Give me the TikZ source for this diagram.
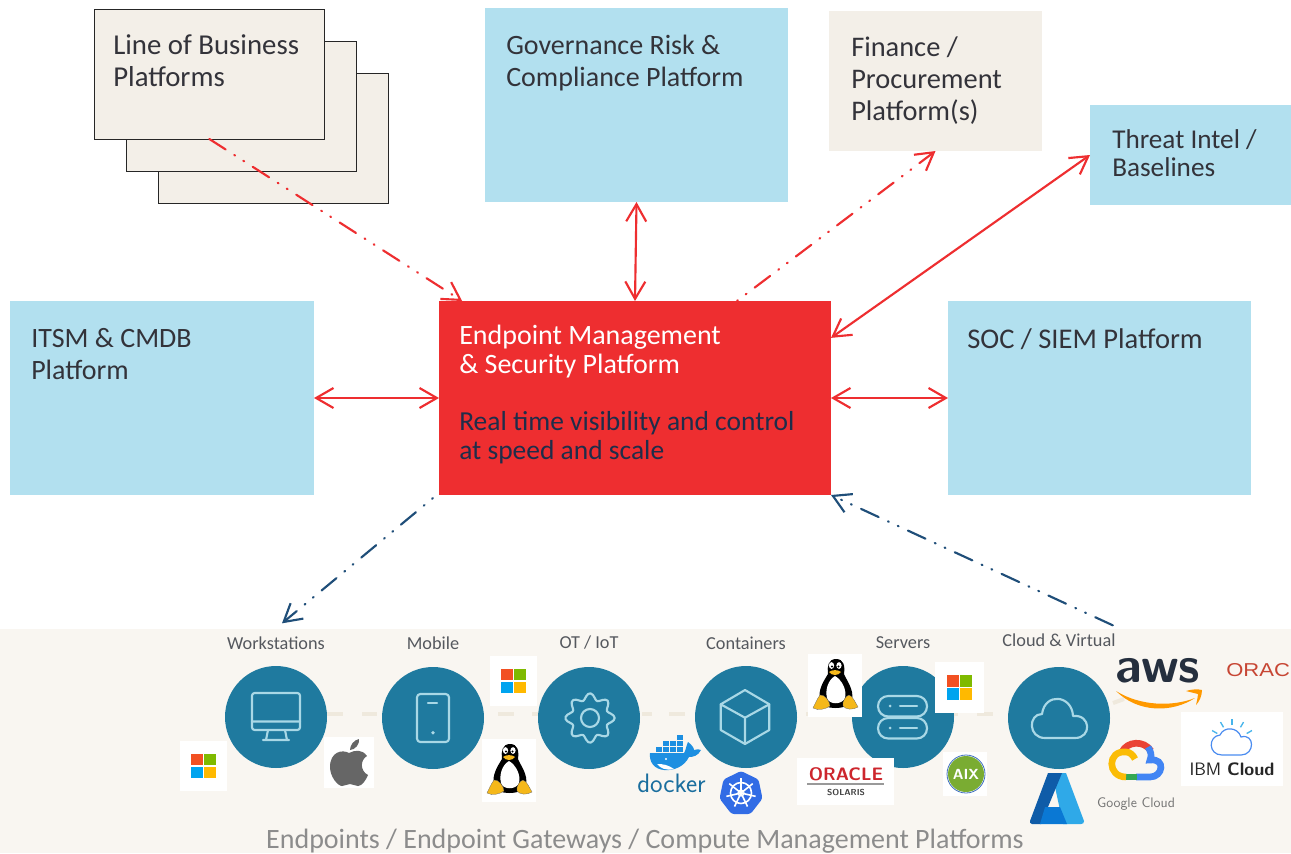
\documentclass[tikz,border=0pt]{standalone}
\usepackage{graphicx}
\usepackage{fontspec}
\setmainfont{Carlito}
\newfontfamily\logosans{Liberation Sans}
\usetikzlibrary{arrows.meta,calc}
\definecolor{panelblue}{HTML}{B2E0EF}
\definecolor{panelcream}{HTML}{F3EFE8}
\definecolor{corered}{HTML}{EE2E30}
\definecolor{corenavy}{HTML}{1F2D4A}
\definecolor{arrowred}{HTML}{EE2E30}
\definecolor{arrownavy}{HTML}{1F4E79}
\definecolor{bandbg}{HTML}{F9F6F1}
\definecolor{bandline}{HTML}{EFE9DD}
\definecolor{discblue}{HTML}{1F7A9F}
\definecolor{iconblue}{HTML}{A9D8E6}
\definecolor{inktext}{HTML}{33333A}
\definecolor{greytext}{HTML}{8C8C8C}
\definecolor{lbltext}{HTML}{55585E}
\definecolor{tuxyellow}{HTML}{F5B81A}
\newcommand{\fs}[2]{\fontsize{#1}{#2}\selectfont}
\tikzset{
  x=0.75pt,y=-0.75pt,
  panel/.style={anchor=north west,inner sep=0pt,outer sep=0pt,draw=none},
  lobpanel/.style={panel,fill=panelcream,draw=black!85,line width=0.65pt,minimum width=173pt,minimum height=97.5pt},
  bigtext/.style={anchor=north west,inner sep=0pt,align=left,font=\fs{21}{24},text=inktext},
  twoway/.style={draw=arrowred,line width=1.6pt,{Straight Barb[length=13pt,width=15pt]}-{Straight Barb[length=13pt,width=15pt]}},
  dashdots/.style={line width=1.6pt,line cap=round,dash pattern=on 14.5pt off 7.7pt on 0.7pt off 7.4pt on 0.7pt off 7.7pt},
  oneway/.style={dashdots,draw=arrowred,-{Straight Barb[length=13pt,width=15pt]}},
  navyway/.style={dashdots,draw=arrownavy,-{Straight Barb[length=13pt,width=15pt]}},
  disc/.style={circle,fill=discblue,minimum size=76.5pt,inner sep=0pt,outer sep=0pt},
  icon/.style={draw=iconblue,line width=1.6pt,line join=round,line cap=round},
  lbl/.style={inner sep=0pt,font=\fs{13.7}{15},text=lbltext},
  logobox/.style={fill=white,draw=none}
}
\newcommand{\msquares}[4]{% box x1 y1 x2 y2 ; squares centred
  \fill[logobox] (#1,#2) rectangle (#3,#4);
  \begin{scope}[shift={({(#1+#3)/2},{(#2+#4)/2})}]
    \fill[color={rgb,255:red,242;green,80;blue,34}] (-12.2,-12.2) rectangle (-0.6,-0.6);
    \fill[color={rgb,255:red,127;green,186;blue,0}] (0.6,-12.2) rectangle (12.2,-0.6);
    \fill[color={rgb,255:red,0;green,164;blue,239}] (-12.2,0.6) rectangle (-0.6,12.2);
    \fill[color={rgb,255:red,255;green,185;blue,0}] (0.6,0.6) rectangle (12.2,12.2);
  \end{scope}}
\newcommand{\tuxlogo}[2]{%
  \begin{scope}[shift={(#1,#2)}]
    \fill[logobox] (0,0) rectangle (54,63);
    \fill[black] (28,5) .. controls (20,5) and (19,13) .. (20,20) .. controls (15,28) and (10,36) .. (12,45) .. controls (14,52) and (20,54) .. (27,54) .. controls (35,54) and (42,52) .. (44,45) .. controls (46,36) and (39,27) .. (36,20) .. controls (37,12) and (36,5) .. (28,5) -- cycle;
    \fill[white] (27,22) .. controls (20,26) and (17,36) .. (19,44) .. controls (21,51) and (34,51) .. (37,44) .. controls (39,36) and (34,26) .. (27,22) -- cycle;
    \fill[white] (23.5,11.5) ellipse (2.6 and 3.4);
    \fill[white] (31,11.5) ellipse (2.6 and 3.4);
    \fill[black] (24,12.5) circle (1.1);
    \fill[black] (30.5,12.5) circle (1.1);
    \fill[tuxyellow] (21,18) .. controls (24,15.5) and (30,15.5) .. (33,18) .. controls (30,22) and (24,22) .. (21,18) -- cycle;
    \filldraw[fill=tuxyellow,draw=black!60,line width=0.2pt] (12,41) .. controls (16,40) and (22,47) .. (22,52) .. controls (18,55) and (10,57) .. (5,54) .. controls (7,50) and (9,45) .. (12,41) -- cycle;
    \filldraw[fill=tuxyellow,draw=black!60,line width=0.2pt] (41,41) .. controls (45,42) and (48,50) .. (50,53) .. controls (45,56) and (38,56) .. (35,52) .. controls (34,47) and (38,42) .. (41,41) -- cycle;
  \end{scope}}
\begin{document}
\begin{tikzpicture}
\useasboundingbox (0,0) rectangle (1291,853);
\begin{scope}
\clip (0,0) rectangle (1291,853);
\fill[white] (0,0) rectangle (1291,853);
\fill[bandbg] (0,629) rectangle (1291,853);
% stacked platform cards
\node[lobpanel] (lobc) at (158,73) {};
\node[lobpanel] (lobb) at (126,41) {};
\node[lobpanel] (lob) at (94,9) {};
\node[bigtext,font=\fs{21.6}{24}] (lobt) at (113,34) {Line of Business\\Platforms};
\node[panel,fill=panelblue,minimum width=227.25pt,minimum height=145.5pt] (grc) at (485,8) {};
\node[bigtext] (grct) at (506,35) {Governance Risk \&\\Compliance Platform};
\node[panel,fill=panelcream,minimum width=159.75pt,minimum height=105pt] (fin) at (829,11) {};
\node[bigtext,font=\fs{21.3}{24}] (fint) at (851,37) {Finance /\\Procurement\\Platform(s)};
\node[panel,fill=panelblue,minimum width=150.75pt,minimum height=75pt] (threat) at (1090,105) {};
\node[bigtext,font=\fs{20.4}{21}] (threatt) at (1112,129) {Threat Intel /\\Baselines};
\node[panel,fill=panelblue,minimum width=228pt,minimum height=145.5pt] (itsm) at (10,301) {};
\node[bigtext] (itsmt) at (31,328) {ITSM \& CMDB\\Platform};
\node[panel,fill=panelblue,minimum width=227.25pt,minimum height=145.5pt] (soc) at (948,301) {};
\node[bigtext,font=\fs{21.4}{24}] (soct) at (967,328) {SOC / SIEM Platform};
\node[panel,fill=corered,minimum width=294pt,minimum height=145.5pt] (core) at (439,301) {};
\node[bigtext,text=white,font=\fs{21}{21.75}] (coret) at (459,325) {Endpoint Management\\\& Security Platform};
\node[bigtext,text=corenavy,font=\fs{20.6}{21.75}] (coresub) at (459,411) {Real time visibility and control\\at speed and scale};
% band dashes
\foreach \a/\b in {327/343,362/377,498/514,532/548,642/652,669/685,806/822,953/958,977/993}
  \draw[bandline,line width=3pt] (\a,714) -- (\b,714);
\draw[bandline,line width=3pt] (1113,703) -- (1124,699);
% discs
\node[disc] (dw) at (276,717) {};
\node[disc] (dm) at (433,718) {};
\node[disc] (dt) at (589,718) {};
\node[disc] (dc) at (746,717) {};
\node[disc] (ds) at (903,717) {};
\node[disc] (dv) at (1059,718) {};
\node[lbl] (lw) at (276,643) {Workstations};
\node[lbl] (lm) at (433,643) {Mobile};
\node[lbl] (lt) at (589,643) {OT / IoT};
\node[lbl] (lc) at (746,643) {Containers};
\node[lbl] (ls) at (903,643) {Servers};
\node[lbl] (lv) at (1059,640) {Cloud \& Virtual};
\node[inner sep=0pt,font=\fs{21}{24},text=greytext] (caption) at (645,841) {Endpoints / Endpoint Gateways / Compute Management Platforms};
% monitor icon
\draw[icon,rounded corners=2pt] (252,693) rectangle (300,730);
\draw[icon] (252,721.5) -- (300,721.5) (268,730) -- (266,740) (285,730) -- (287,740) (263,740) -- (289,740);
% phone icon
\draw[icon,rounded corners=2.5pt] (417,694) rectangle (449,742);
\draw[icon] (428,702.7) -- (437,702.7);
\fill[iconblue] (433,732.7) circle (1.9);
% gear icon
\draw[icon,shift={(590,718)}] plot[smooth cycle,samples=65,domain=0:354.375] ({(21.5+3.2*cos(8*\x))*cos(\x)},{(21.5+3.2*cos(8*\x))*sin(\x)});
\draw[icon] (590,718) circle (9);
% cube icon
\draw[icon] (745,690) -- (769.3,704.3) -- (769.3,730) -- (745,744) -- (720.7,730) -- (720.7,704.3) -- cycle;
\draw[icon] (720.7,704.3) -- (745,717.7) -- (769.3,704.3) (745,717.7) -- (745,744);
% server icon
\draw[icon,rounded corners=7.6pt] (878,696) rectangle (927,716.5);
\draw[icon,rounded corners=7.6pt] (878,718) rectangle (927,738.5);
\fill[iconblue] (890,706) circle (1.5) (890,728) circle (1.5);
\draw[icon] (900,706) -- (917,706) (900,728) -- (917,728);
% cloud icon
\draw[icon] (1045,738) .. controls (1028,738) and (1028,714) .. (1042,714) .. controls (1045,692) and (1072,695) .. (1073,716) .. controls (1091,714) and (1092,738) .. (1075,738) -- cycle;
% logos
\msquares{180}{741}{227}{791}
\fill[logobox] (324,737) rectangle (374,788);
\fill[black!60] (349,753) .. controls (342,749) and (330,752) .. (330,767) .. controls (330,777) and (338,786) .. (342,786) .. controls (345,786) and (347,784) .. (350,784) .. controls (353,784) and (355,786) .. (358,786) .. controls (362,786) and (366,780) .. (368,775) .. controls (360,771) and (360,760) .. (367,756) .. controls (362,749) and (355,750) .. (349,753) -- cycle;
\fill[black!60] (350,750) .. controls (350,745) and (354,740) .. (359,739) .. controls (360,744) and (355,750) .. (350,750) -- cycle;
\msquares{490}{656}{537}{706}
\tuxlogo{482}{739}
\tuxlogo{808}{654}
\msquares{935}{662}{984}{713}
% docker
\definecolor{dockerblue}{HTML}{1D8FE1}
\fill[dockerblue] (650,753) -- (684,753) .. controls (686,750) and (686,746) .. (688,742) .. controls (692,745) and (694,748) .. (694,750) .. controls (697,749) and (699,749) .. (701,750) .. controls (698,756) and (693,757) .. (689,757) .. controls (684,767) and (673,771) .. (664,770) .. controls (654,769) and (649,762) .. (650,753) -- cycle;
\foreach \px/\py in {656/747,663/747,670/747,677/747,663/741,670/741,677/741,677/735}
  \fill[dockerblue] (\px,\py) rectangle ++(5.5,5);
\fill[white] (657,764) .. controls (664,764) and (668,765) .. (674,769) .. controls (666,771) and (660,768) .. (657,764) -- cycle;
\fill[white] (666,759) circle (1.1);
\node[inner sep=0pt,font=\fs{20}{22}\sffamily,text={rgb,255:red,26;green,110;blue,158}] (dockertext) at (671.5,783) {docker};
% kubernetes
\fill[color={rgb,255:red,50;green,108;blue,229},rounded corners=2pt] (741,771) -- (758.5,779.5) -- (762.5,798.5) -- (750.5,814) -- (731.5,814) -- (719.5,798.5) -- (723.5,779.5) -- cycle;
\draw[white,line width=1.2pt] (741,793) circle (10.5);
\draw[white,line width=0.9pt] (741,793) circle (3);
\foreach \ang in {-90,-38.6,12.9,64.3,115.7,167.1,218.6}
  \draw[white,line width=1.2pt] (741,793) -- ++(\ang:15);
% oracle solaris
\fill[logobox] (797,758) rectangle (894,805);
\node[inner sep=0pt,font=\fs{13.5}{15}\bfseries\sffamily,text={rgb,255:red,205;green,38;blue,45}] (oraclesol) at (846,774) {ORACLE};
\draw[black!40,line width=1pt] (807,784) -- (884,784);
\node[inner sep=0pt,font=\fs{6.5}{8}\bfseries\sffamily,text=black!75] (solaris) at (846,792) {SOLARIS};
% aix
\fill[logobox] (943,752) rectangle (987,796);
\fill[color={rgb,255:red,122;green,172;blue,50}] (966,774) circle (18);
\draw[color={rgb,255:red,60;green,110;blue,190},line width=0.6pt] (966,774) circle (19);
\node[inner sep=0pt,font=\fs{11}{12}\bfseries\sffamily,text=white] (aix) at (966,774) {AIX};
% azure
\fill[color={rgb,255:red,47;green,169;blue,232}] (1052,773) -- (1066,773) -- (1084,821) .. controls (1084,823) and (1083,824) .. (1081,824) -- (1063,824) -- cycle;
\fill[color={rgb,255:red,15;green,92;blue,168}] (1048,773) -- (1062,773) -- (1041,824) -- (1032,824) .. controls (1030,824) and (1030,822) .. (1030,821) -- cycle;
\fill[color={rgb,255:red,10;green,120;blue,212}] (1045,807) -- (1060,807) -- (1067,824) -- (1040,824) -- cycle;
% google cloud
\begin{scope}[line width=5pt,line cap=butt]
\draw[color={rgb,255:red,234;green,67;blue,53}] (1122,752) .. controls (1127,741) and (1144,740) .. (1151,751);
\draw[color={rgb,255:red,66;green,133;blue,244}] (1148,747) .. controls (1151,752) and (1152,755) .. (1150,760) .. controls (1166,758) and (1163,777) .. (1150,777) -- (1136,777);
\draw[color={rgb,255:red,52;green,168;blue,83}] (1137,777) -- (1124,777);
\draw[color={rgb,255:red,251;green,188;blue,5}] (1126,777) .. controls (1107,777) and (1107,750) .. (1126,752) .. controls (1130,752) and (1133,755) .. (1135,759);
\end{scope}
\node[inner sep=0pt,font=\fs{10.4}{12}\sffamily,text=black!55] (gcloud) at (1136,804) {Google Cloud};
% aws
\node[inner sep=0pt,font=\fs{38}{38}\bfseries\sffamily,text={rgb,255:red,37;green,47;blue,62}] (aws) at (1158,671) {aws};
\fill[color={rgb,255:red,255;green,153;blue,0}] (1116,691) .. controls (1138,713) and (1172,713) .. (1195,698) .. controls (1172,707) and (1140,706) .. (1116,691) -- cycle;
\fill[color={rgb,255:red,255;green,153;blue,0}] (1186,691) .. controls (1192,689) and (1198,689) .. (1202,690) .. controls (1202,696) and (1199,702) .. (1196,705) .. controls (1197,700) and (1198,697) .. (1198,694) .. controls (1194,693) and (1190,692) .. (1186,691) -- cycle;
% ibm cloud
\fill[logobox] (1181,712) rectangle (1283,786);
\draw[color={rgb,255:red,74;green,140;blue,240},line width=0.9pt] (1222,755) .. controls (1208,755) and (1208,736) .. (1220,735) .. controls (1224,726) and (1238,727) .. (1241,737) .. controls (1255,733) and (1255,755) .. (1241,755) -- cycle;
\foreach \ang in {-150,-120,-90,-60,-30}
  \draw[color={rgb,255:red,70;green,180;blue,235},line width=1pt] (1232,742) ++(\ang:17) -- ++(\ang:6);
\node[inner sep=0pt,font=\fs{13.5}{15}\sffamily,text=black!85] (ibm) at (1232,769) {IBM \textbf{Cloud}};
% oracle crop
\node[anchor=west,inner sep=0pt,font=\fs{14}{16}\logosans,text={rgb,255:red,199;green,70;blue,52}] (oracleright) at (1226,670) {\scalebox{1.18}[1]{ORAC}};
\end{scope}
% connectors
\draw[oneway] (lob.south) -- ($(core.north west)!0.059!(core.north east)$);
\draw[twoway] (grc.south) -- (core.north);
\draw[oneway,dash phase=22pt] ($(core.north west)!0.76!(core.north east)$) -- (fin.south);
\draw[twoway] ($(core.north east)!0.19!(core.south east)$) -- (threat.west);
\draw[twoway] (itsm.east) -- (core.west);
\draw[twoway] (core.east) -- (soc.west);
\draw[navyway,dash phase=22pt] ($(core.south west)+(-6,3)$) -- ($(lw.north)+(6,-13)$);
\draw[navyway] ($(lv.north east)+(-3,-8)$) -- (core.south east);
\end{tikzpicture}
\end{document}
